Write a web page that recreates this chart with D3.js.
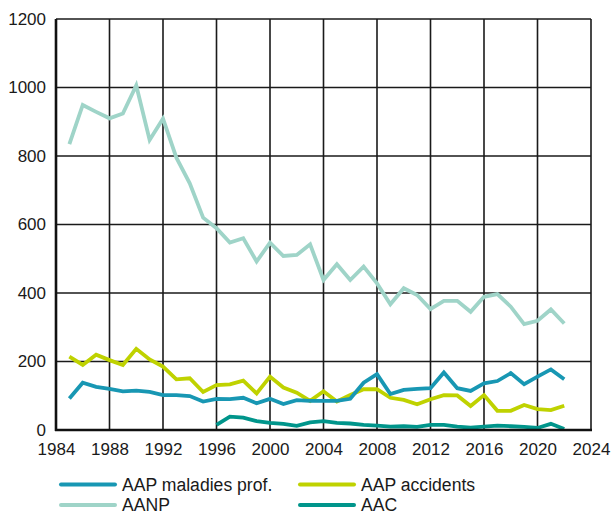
<!DOCTYPE html>
<html><head><meta charset="utf-8">
<script src="https://cdn.jsdelivr.net/npm/d3@7"></script>
<style>
html,body{margin:0;padding:0;background:#fff;}
svg text{font-family:"Liberation Sans",Arial,Helvetica,sans-serif;fill:#1a1a1a;}
</style></head>
<body><svg id="c" width="612" height="512"></svg>
<script>
const yearsAll = d3.range(1985, 2023);
const yearsAAC = d3.range(1996, 2023);
const maladies = [92,138,126,120,113,115,111,102,102,99,83,91,90,94,78,91,76,87,85,85,85,91,138,163,105,117,120,122,168,122,114,136,143,166,134,156,177,148];
const accidents = [214,190,220,204,190,237,206,185,148,151,111,131,133,144,107,156,124,109,85,113,83,102,119,119,94,88,75,90,102,101,70,102,56,56,73,61,58,71];
const aanp = [835,949,929,910,924,1006,847,909,795,720,620,589,547,560,492,547,508,511,542,438,484,438,477,428,367,414,394,353,377,377,345,389,397,360,309,319,352,311];
const aac = [15,39,36,26,21,18,12,22,26,21,19,15,13,10,11,9,15,15,10,7,10,13,11,9,6,18,3];
const xTicks = d3.range(1984, 2025, 4);
const yTicks = [0,200,400,600,800,1000,1200];

const series = [
  {name:"AANP", years:yearsAll, values:aanp, color:"#9fd4c8"},
  {name:"AAP accidents", years:yearsAll, values:accidents, color:"#bfd200"},
  {name:"AAP maladies prof.", years:yearsAll, values:maladies, color:"#1897b3"},
  {name:"AAC", years:yearsAAC, values:aac, color:"#00958b"}
];
const legendOrder = ["AAP maladies prof.","AAP accidents","AANP","AAC"];

const svg = d3.select("#c");
const L=56, R=591, T=19, B=430;
const x = d3.scaleLinear().domain([1984,2024]).range([L,R]);
const y = d3.scaleLinear().domain([0,1200]).range([B,T]);

const grid = svg.append("g");
grid.selectAll("line.v").data(xTicks).enter().append("line")
  .attr("x1",d=>x(d)).attr("x2",d=>x(d)).attr("y1",T).attr("y2",B)
  .attr("stroke","#1a1a1a").attr("stroke-width",1.6);
grid.selectAll("line.h").data(yTicks).enter().append("line")
  .attr("x1",L).attr("x2",R).attr("y1",d=>y(d)).attr("y2",d=>y(d))
  .attr("stroke","#1a1a1a").attr("stroke-width",1.6);

const line = d3.line().x(d=>x(d[0])).y(d=>y(d[1]));
series.forEach(s=>{
  svg.append("path").datum(s.years.map((yr,i)=>[yr,s.values[i]]))
    .attr("d",line).attr("fill","none").attr("stroke",s.color)
    .attr("stroke-width",3.8).attr("stroke-linejoin","miter");
});

// axes frame
svg.append("line").attr("x1",L).attr("x2",L).attr("y1",T).attr("y2",B+1).attr("stroke","#111").attr("stroke-width",2.6);
svg.append("line").attr("x1",L-1).attr("x2",R+1).attr("y1",B).attr("y2",B).attr("stroke","#111").attr("stroke-width",2.6);

const xAxis = d3.axisBottom(x).tickValues(xTicks).tickFormat(d3.format("d")).tickSize(0).tickPadding(13);
const gx = svg.append("g").attr("transform",`translate(0,${B})`).call(xAxis);
gx.select(".domain").remove();
gx.selectAll("text").attr("font-size",17).style("font-family","Liberation Sans, Arial, sans-serif").attr("fill","#1a1a1a");

const yAxis = d3.axisLeft(y).tickValues(yTicks).tickFormat(d3.format("d")).tickSize(0).tickPadding(10);
const gy = svg.append("g").attr("transform",`translate(${L},0)`).call(yAxis);
gy.select(".domain").remove();
gy.selectAll("text").attr("font-size",17).style("font-family","Liberation Sans, Arial, sans-serif").attr("fill","#1a1a1a");

const lg = svg.append("g");
legendOrder.forEach((n,i)=>{
  const s = series.find(d=>d.name===n);
  const col = i%2, row = Math.floor(i/2);
  const lx = col===0 ? 61 : 300;
  const ly = 484.5 + row*20.5;
  lg.append("line").attr("x1",lx).attr("x2",lx+54).attr("y1",ly).attr("y2",ly)
    .attr("stroke",s.color).attr("stroke-width",4).attr("stroke-linecap","round");
  lg.append("text").attr("x",lx+61).attr("y",ly).attr("dy","0.36em")
    .attr("font-size",17.6).text(n);
});
</script></body></html>
